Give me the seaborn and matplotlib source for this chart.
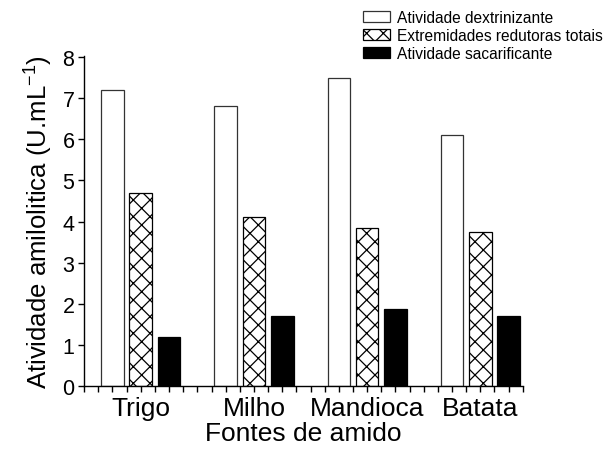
import numpy as np
import pandas as pd
import matplotlib
matplotlib.use("Agg")
import matplotlib.pyplot as plt
import seaborn as sns
from matplotlib.ticker import FixedLocator

categories = ["Trigo", "Milho", "Mandioca", "Batata"]
series_names = ["Atividade dextrinizante", "Extremidades redutoras totais", "Atividade sacarificante"]
dextrinizante = [7.2, 6.8, 7.5, 6.1]
redutoras = [4.7, 4.1, 3.85, 3.75]
sacarificante = [1.2, 1.7, 1.87, 1.7]
y_ticks = [0, 1, 2, 3, 4, 5, 6, 7, 8]

sns.set_theme(style="ticks")
plt.rcParams["font.family"] = ["Liberation Sans", "DejaVu Sans"]
plt.rcParams["mathtext.default"] = "regular"
plt.rcParams["hatch.linewidth"] = 0.9
plt.rcParams["text.color"] = "black"
plt.rcParams["axes.labelcolor"] = "black"
plt.rcParams["xtick.color"] = "black"
plt.rcParams["ytick.color"] = "black"

df = pd.DataFrame({
    "Fonte": categories * 3,
    "Serie": [series_names[0]] * 4 + [series_names[1]] * 4 + [series_names[2]] * 4,
    "Valor": dextrinizante + redutoras + sacarificante,
})

fig = plt.figure(figsize=(6.1, 4.52), dpi=100)
ax = fig.add_axes([0.138, 0.144, 0.719, 0.730])

sns.barplot(data=df, x="Fonte", y="Valor", hue="Serie", order=categories,
            hue_order=series_names, palette=["white", "white", "black"],
            width=0.75, gap=0.2, saturation=1, legend=False, ax=ax,
            edgecolor="black", linewidth=0.9)

for bar in ax.containers[1]:
    bar.set_hatch("xx")
for bar in ax.containers[0]:
    bar.set_edgecolor("#333333")

ax.set_xlim(-0.5, 3.375)
ax.set_ylim(0, 8.03)
ax.set_yticks(y_ticks)
ax.set_yticklabels([str(t) for t in y_ticks], fontsize=15.5)
ax.set_xticks(range(len(categories)))
ax.set_xticklabels(categories, fontsize=19)
ax.xaxis.set_minor_locator(FixedLocator(np.arange(-0.5, 3.38, 0.125)))
ax.tick_params(axis="x", which="both", direction="out", length=4, width=1, colors="black", pad=3)
ax.tick_params(axis="y", which="major", direction="out", length=4, width=1, colors="black", pad=3)

for s in ["top", "right"]:
    ax.spines[s].set_visible(False)
for s in ["left", "bottom"]:
    ax.spines[s].set_color("black")
    ax.spines[s].set_linewidth(1)

ax.set_xlabel("Fontes de amido", fontsize=19, labelpad=1, color="black")
ax.set_ylabel("Atividade amilolitica (U.mL$^{-1}$)", fontsize=18.5, labelpad=5, color="black")

ax.legend(handles=[c.patches[0] for c in ax.containers], labels=series_names,
          loc="upper left", bbox_to_anchor=(0.595, 0.976), bbox_transform=fig.transFigure,
          frameon=False, fontsize=11.2, handlelength=1.75, handleheight=0.75, handletextpad=0.45,
          labelspacing=0.2, borderaxespad=0, borderpad=0, labelcolor="black")

fig.savefig("out.png", dpi=100)
